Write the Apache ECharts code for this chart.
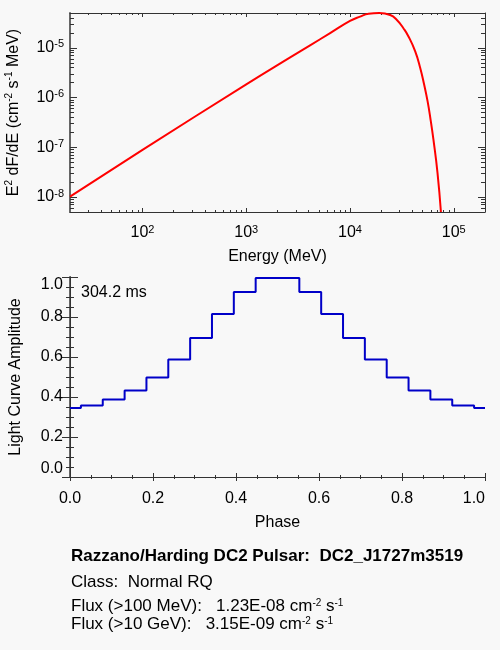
<!DOCTYPE html>
<html>
<head>
<meta charset="utf-8">
<title>DC2_J1727m3519</title>
<script src="https://cdn.jsdelivr.net/npm/echarts@6/dist/echarts.min.js"></script>
<style>
html, body { margin: 0; padding: 0; background: #f8f8f8; }
#main { width: 500px; height: 650px; }
</style>
</head>
<body>
<div id="main"></div>
<script>
// spectrum (upper panel)
var energy = [20, 100, 1000, 2650, 4120, 6430, 10000, 12500, 15100, 19100,
    24400, 28300, 32700, 36600, 42500, 47500, 51800, 55900, 59800, 63700, 69700, 75200];
var flux = [1.02e-8, 8.85e-8, 1.84e-6, 6.41e-6, 1.12e-5, 1.97e-5, 3.46e-5, 4.24e-5, 4.83e-5, 4.99e-5,
    4.56e-5, 3.62e-5, 2.47e-5, 1.69e-5, 8.45e-6, 3.92e-6, 1.82e-6, 8.45e-7, 3.57e-7, 1.42e-7, 3.07e-8, 5.0e-9];
var energyTicks = [100, 1000, 10000, 100000];
var fluxTicks = [1e-8, 1e-7, 1e-6, 1e-5];

// light curve (lower panel), 19 bins drawn as a histogram
var phase = [0, 0.0526, 0.1053, 0.1579, 0.2105, 0.2632, 0.3158, 0.3684, 0.4211, 0.4737,
    0.5263, 0.5789, 0.6316, 0.6842, 0.7368, 0.7895, 0.8421, 0.8947, 0.9474, 1];
var amplitude = [0.345, 0.357, 0.387, 0.433, 0.498, 0.587, 0.695, 0.815, 0.925, 0.995,
    0.995, 0.925, 0.815, 0.695, 0.587, 0.498, 0.433, 0.387, 0.357, 0.345];

// text under the plots
var period = '304.2 ms';
var pulsarName = 'DC2_J1727m3519';
var pulsarClass = 'Normal RQ';
var flux100MeV = '1.23E-08';
var flux10GeV = '3.15E-09';

var FONT = 'Liberation Sans, Arial, Helvetica, sans-serif';
var LINE = '#333';

var sup = { fontSize: 10, lineHeight: 6, verticalAlign: 'top', fontFamily: FONT, color: '#000' };
var tickSup = { fontSize: 11, lineHeight: 6, verticalAlign: 'top', fontFamily: FONT, color: '#000' };

function minorLogTicks(lo, hi) {
    var out = [];
    for (var d = Math.floor(Math.log10(lo)); d <= Math.ceil(Math.log10(hi)); d++) {
        for (var m = 2; m <= 9; m++) {
            var v = m * Math.pow(10, d);
            if (v > lo * 1.0001 && v < hi * 0.9999) out.push(v);
        }
    }
    return out;
}

function powLabel(v) {
    return '10{s|' + Math.round(Math.log10(v)) + '}';
}

function logAxis(grid, pos, min, max, ticks, len, withLabel, line) {
    return {
        type: 'log', logBase: 10, gridIndex: grid, position: pos, min: min, max: max,
        axisLine: { show: !!line, lineStyle: line || {} },
        axisTick: { show: true, inside: true, length: len, customValues: ticks, lineStyle: { color: LINE } },
        axisLabel: {
            show: withLabel, customValues: ticks, formatter: powLabel,
            fontSize: 16, lineHeight: 18, color: '#000', fontFamily: FONT,
            margin: pos === 'left' ? 6 : 12, rich: { s: tickSup }
        },
        splitLine: { show: false }
    };
}

function phaseAxis(pos, len, withLabel, line) {
    var isY = pos === 'left' || pos === 'right';
    return {
        type: 'value', gridIndex: 1, position: pos, min: 0, max: 1, interval: 0.2,
        axisLine: { show: true, lineStyle: line },
        axisTick: { show: true, inside: true, length: len, lineStyle: { color: LINE } },
        minorTick: { show: true, splitNumber: 4, length: len / 2, lineStyle: { color: LINE } },
        axisLabel: {
            show: withLabel, fontSize: 16, color: '#000', fontFamily: FONT,
            margin: isY ? 7 : 14,
            formatter: function (v) { return v.toFixed(1); },
            alignMaxLabel: isY ? null : 'right',
            verticalAlignMinLabel: isY ? 'bottom' : null,
            verticalAlignMaxLabel: isY ? 'top' : null
        },
        splitLine: { show: false },
        minorSplitLine: { show: false }
    };
}

var eMin = 20, eMax = 2e5, fMin = 5e-9, fMax = 5e-5;
var eMinor = minorLogTicks(eMin, eMax);
var fMinor = minorLogTicks(fMin, fMax);

var lineThin = { color: LINE, width: 1 };
var lineLeft = { color: '#666', width: 2 };

var xAxes = [
    logAxis(0, 'bottom', eMin, eMax, energyTicks, 4, true, lineThin),
    logAxis(0, 'bottom', eMin, eMax, eMinor, 2, false, null),
    logAxis(0, 'top', eMin, eMax, energyTicks, 4, false, lineThin),
    logAxis(0, 'top', eMin, eMax, eMinor, 2, false, null),
    phaseAxis('bottom', 4, true, lineThin),
    phaseAxis('top', 4, false, lineThin)
];
xAxes[0].name = 'Energy (MeV)';
xAxes[0].nameLocation = 'middle';
xAxes[0].nameGap = 37;
xAxes[0].nameTextStyle = { fontSize: 16, color: '#000', fontFamily: FONT };
xAxes[4].name = 'Phase';
xAxes[4].nameLocation = 'middle';
xAxes[4].nameGap = 38;
xAxes[4].nameTextStyle = { fontSize: 16, color: '#000', fontFamily: FONT };

var yAxes = [
    logAxis(0, 'left', fMin, fMax, fluxTicks, 7, true, lineLeft),
    logAxis(0, 'left', fMin, fMax, fMinor, 4, false, null),
    logAxis(0, 'right', fMin, fMax, fluxTicks, 7, false, lineThin),
    logAxis(0, 'right', fMin, fMax, fMinor, 4, false, null),
    phaseAxis('left', 8, true, lineLeft),
    phaseAxis('right', 8, false, lineThin)
];
yAxes[0].name = 'E{s|2} dF/dE (cm{s|-2} s{s|-1} MeV)';
yAxes[0].nameLocation = 'middle';
yAxes[0].nameGap = 46;
yAxes[0].nameTextStyle = { fontSize: 16, lineHeight: 20, color: '#000', fontFamily: FONT, rich: { s: sup } };
yAxes[4].name = 'Light Curve Amplitude';
yAxes[4].nameLocation = 'middle';
yAxes[4].nameGap = 46;
yAxes[4].nameTextStyle = { fontSize: 16, color: '#000', fontFamily: FONT };

var spectrum = energy.map(function (e, i) { return [e, flux[i]]; });
var lightCurve = phase.map(function (p, i) { return [p, amplitude[i]]; });

var textBase = { fontFamily: FONT, color: '#000', fontWeight: 'normal', fontSize: 17, lineHeight: 17, rich: { s: sup } };

var chart = echarts.init(document.getElementById('main'));
chart.setOption({
    backgroundColor: '#f8f8f8',
    animation: false,
    textStyle: { fontFamily: FONT, color: '#000' },
    grid: [
        { left: 70, top: 13, width: 415, height: 199, outerBoundsMode: 'none' },
        { left: 70, top: 277, width: 415, height: 200, outerBoundsMode: 'none' }
    ],
    title: [
        { text: period, left: 81, top: 285, padding: 0,
          textStyle: Object.assign({}, textBase, { fontSize: 16, lineHeight: 16 }) },
        { text: 'Razzano/Harding DC2 Pulsar:  ' + pulsarName, left: 71, top: 548, padding: 0,
          textStyle: Object.assign({}, textBase, { fontWeight: 'bold' }) },
        { text: 'Class:  ' + pulsarClass, left: 71, top: 574, padding: 0, textStyle: textBase },
        { text: 'Flux (>100 MeV):   ' + flux100MeV + ' cm{s|-2} s{s|-1}', left: 71, top: 598, padding: 0, textStyle: textBase },
        { text: 'Flux (>10 GeV):   ' + flux10GeV + ' cm{s|-2} s{s|-1}', left: 71, top: 616, padding: 0, textStyle: textBase }
    ],
    xAxis: xAxes,
    yAxis: yAxes,
    series: [
        {
            type: 'line', xAxisIndex: 0, yAxisIndex: 0, data: spectrum,
            showSymbol: false, smooth: 0.5, silent: true, clip: true,
            lineStyle: { color: '#ff0000', width: 2 }, itemStyle: { color: '#ff0000' }
        },
        {
            type: 'line', xAxisIndex: 4, yAxisIndex: 4, data: lightCurve, step: 'middle',
            showSymbol: false, silent: true,
            lineStyle: { color: '#0000c8', width: 2 }, itemStyle: { color: '#0000c8' }
        }
    ]
});
</script>
</body>
</html>
